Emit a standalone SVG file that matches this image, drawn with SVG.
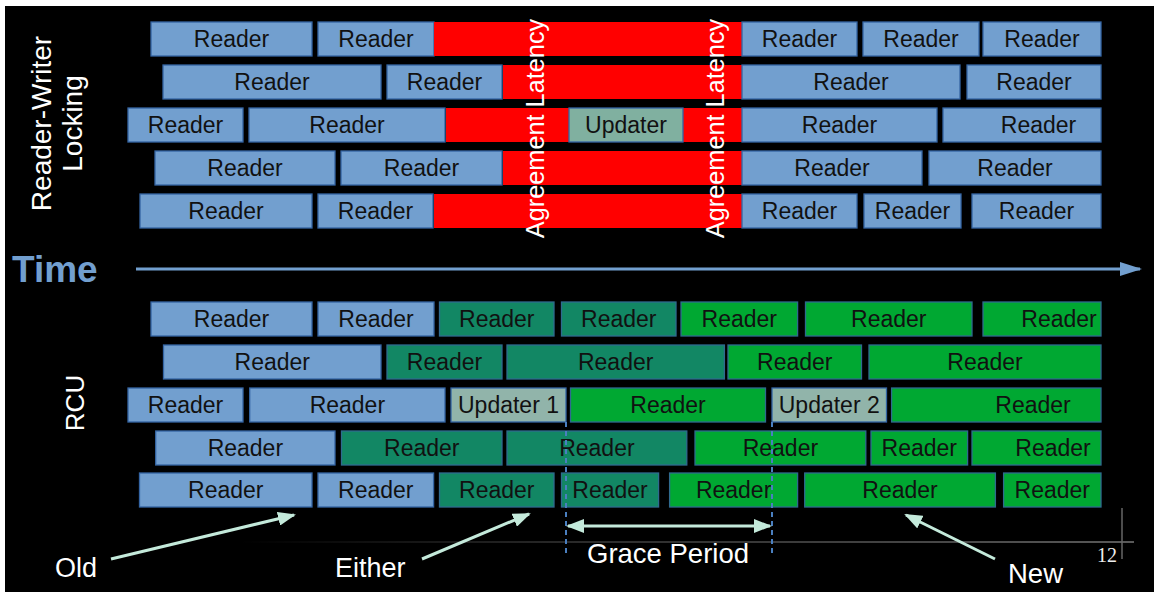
<svg xmlns="http://www.w3.org/2000/svg" width="1154" height="592" viewBox="0 0 1154 592">
  <style>
    .rd { fill: #729fcf; stroke: #3465a4; stroke-width: 1.3; }
    .dg { fill: #128764; stroke: #2f6a8f; stroke-width: 1.3; }
    .bg { fill: #00a832; stroke: #2f6a8f; stroke-width: 1.3; }
    .up { fill: #80b0a0; stroke: #3465a4; stroke-width: 1.3; }
    .up2 { fill: #91b4aa; stroke: #3465a4; stroke-width: 1.3; }
    .lk { fill: #ff0000; }
    .t { font-family: "Liberation Sans", Arial, sans-serif; font-size: 23px; fill: #111; text-anchor: middle; }
    .w { font-family: "Liberation Sans", Arial, sans-serif; fill: #fff; }
    .mint { stroke: #c4eadb; stroke-width: 3; fill: none; }
    .dash { stroke: #4a7fc0; stroke-width: 2; stroke-dasharray: 5 4; fill: none; }
  </style>
  <defs>
    <marker id="mint-head" viewBox="0 0 18 14" refX="16" refY="7" markerWidth="18" markerHeight="14" markerUnits="userSpaceOnUse" orient="auto-start-reverse">
      <path d="M0,0 L18,7 L0,14 z" fill="#c4eadb"/>
    </marker>
    <marker id="time-head" viewBox="0 0 22 14" refX="20" refY="7" markerWidth="22" markerHeight="14" markerUnits="userSpaceOnUse" orient="auto">
      <path d="M0,0 L22,7 L0,14 z" fill="#729fcf"/>
    </marker>
    <linearGradient id="footer-fade" gradientUnits="userSpaceOnUse" x1="240" y1="0" x2="1134" y2="0">
      <stop offset="0" stop-color="#555" stop-opacity="0"/>
      <stop offset="0.4" stop-color="#555" stop-opacity="0.7"/>
      <stop offset="1" stop-color="#777" stop-opacity="1"/>
    </linearGradient>
  </defs>

  <!-- page frame -->
  <rect x="0" y="0" width="1154" height="592" fill="#fff"/>
  <rect x="5" y="6" width="1149" height="586" fill="#000"/>

  <!-- footer rule and corner mark -->
  <line x1="240" y1="542" x2="1134" y2="542" stroke="url(#footer-fade)" stroke-width="1.5"/>
  <line x1="1122" y1="508" x2="1122" y2="559" stroke="#666" stroke-width="1.5"/>
  <text x="1097" y="562" font-family="'Liberation Serif', 'Times New Roman', serif" font-size="20" fill="#eee">12</text>

  <!-- section labels -->
  <text class="w" font-size="28" text-anchor="middle" transform="translate(51,123.5) rotate(-90)">Reader-Writer<tspan x="0" dy="31">Locking</tspan></text>
  <text class="w" font-size="26" text-anchor="middle" transform="translate(84,403) rotate(-90)">RCU</text>
  <text x="12" y="282" font-family="'Liberation Sans', Arial, sans-serif" font-size="37" font-weight="bold" fill="#729fcf">Time</text>

  <!-- Reader-writer locking: row 1 -->
  <g id="rw1-a"><rect class="rd" x="151" y="22" width="161" height="34"/><text class="t" x="231.5" y="47">Reader</text></g>
  <g id="rw1-b"><rect class="rd" x="318" y="22" width="116" height="34"/><text class="t" x="376" y="47">Reader</text></g>
  <g id="rw1-lock"><rect class="lk" x="434" y="22" width="308" height="34"/></g>
  <g id="rw1-c"><rect class="rd" x="742" y="22" width="115" height="34"/><text class="t" x="799.5" y="47">Reader</text></g>
  <g id="rw1-d"><rect class="rd" x="863" y="22" width="116" height="34"/><text class="t" x="921" y="47">Reader</text></g>
  <g id="rw1-e"><rect class="rd" x="983" y="22" width="118" height="34"/><text class="t" x="1042" y="47">Reader</text></g>

  <!-- row 2 -->
  <g id="rw2-a"><rect class="rd" x="163" y="65" width="218" height="34"/><text class="t" x="272" y="90">Reader</text></g>
  <g id="rw2-b"><rect class="rd" x="387" y="65" width="115" height="34"/><text class="t" x="444.5" y="90">Reader</text></g>
  <g id="rw2-lock"><rect class="lk" x="503" y="65" width="239" height="34"/></g>
  <g id="rw2-c"><rect class="rd" x="742" y="65" width="218" height="34"/><text class="t" x="851" y="90">Reader</text></g>
  <g id="rw2-d"><rect class="rd" x="967" y="65" width="134" height="34"/><text class="t" x="1034" y="90">Reader</text></g>

  <!-- row 3 -->
  <g id="rw3-a"><rect class="rd" x="128" y="108" width="115" height="34"/><text class="t" x="185.5" y="133">Reader</text></g>
  <g id="rw3-b"><rect class="rd" x="249" y="108" width="196" height="34"/><text class="t" x="347" y="133">Reader</text></g>
  <g id="rw3-lock"><rect class="lk" x="446" y="108" width="296" height="34"/></g>
  <g id="rw3-updater"><rect class="up" x="569" y="108" width="114" height="34"/><text class="t" x="626" y="133">Updater</text></g>
  <g id="rw3-c"><rect class="rd" x="742" y="108" width="195" height="34"/><text class="t" x="839.5" y="133">Reader</text></g>
  <g id="rw3-d"><rect class="rd" x="943" y="108" width="158" height="34"/><text class="t" x="1038.5" y="133">Reader</text></g>

  <!-- row 4 -->
  <g id="rw4-a"><rect class="rd" x="155" y="151" width="180" height="34"/><text class="t" x="245" y="176">Reader</text></g>
  <g id="rw4-b"><rect class="rd" x="341" y="151" width="161" height="34"/><text class="t" x="421.5" y="176">Reader</text></g>
  <g id="rw4-lock"><rect class="lk" x="503" y="151" width="239" height="34"/></g>
  <g id="rw4-c"><rect class="rd" x="742" y="151" width="180" height="34"/><text class="t" x="832" y="176">Reader</text></g>
  <g id="rw4-d"><rect class="rd" x="929" y="151" width="172" height="34"/><text class="t" x="1015" y="176">Reader</text></g>

  <!-- row 5 -->
  <g id="rw5-a"><rect class="rd" x="140" y="194" width="172" height="34"/><text class="t" x="226" y="219">Reader</text></g>
  <g id="rw5-b"><rect class="rd" x="318" y="194" width="115" height="34"/><text class="t" x="375.5" y="219">Reader</text></g>
  <g id="rw5-lock"><rect class="lk" x="434" y="194" width="308" height="34"/></g>
  <g id="rw5-c"><rect class="rd" x="742" y="194" width="115" height="34"/><text class="t" x="799.5" y="219">Reader</text></g>
  <g id="rw5-d"><rect class="rd" x="864" y="194" width="97" height="34"/><text class="t" x="912.5" y="219">Reader</text></g>
  <g id="rw5-e"><rect class="rd" x="972" y="194" width="129" height="34"/><text class="t" x="1036.5" y="219">Reader</text></g>

  <!-- agreement latency markers -->
  <text class="w" font-size="25.3" text-anchor="middle" transform="translate(544,128.5) rotate(-90)">Agreement Latency</text>
  <text class="w" font-size="25.3" text-anchor="middle" transform="translate(724,128.5) rotate(-90)">Agreement Latency</text>

  <!-- RCU: row 1 -->
  <g id="rcu1-a"><rect class="rd" x="151" y="302" width="161" height="34"/><text class="t" x="231.5" y="327">Reader</text></g>
  <g id="rcu1-b"><rect class="rd" x="318" y="302" width="116" height="34"/><text class="t" x="376" y="327">Reader</text></g>
  <g id="rcu1-c"><rect class="dg" x="439.5" y="302" width="114.5" height="34"/><text class="t" x="496.75" y="327">Reader</text></g>
  <g id="rcu1-d"><rect class="dg" x="561.5" y="302" width="114.5" height="34"/><text class="t" x="618.75" y="327">Reader</text></g>
  <g id="rcu1-e"><rect class="bg" x="681" y="302" width="116.6" height="34"/><text class="t" x="739.3" y="327">Reader</text></g>
  <g id="rcu1-f"><rect class="bg" x="805.5" y="302" width="166.5" height="34"/><text class="t" x="888.75" y="327">Reader</text></g>
  <g id="rcu1-g"><rect class="bg" x="983" y="302" width="118" height="34"/><text class="t" x="1059" y="327">Reader</text></g>

  <!-- row 2 -->
  <g id="rcu2-a"><rect class="rd" x="163.5" y="345" width="217.5" height="34"/><text class="t" x="272.25" y="370">Reader</text></g>
  <g id="rcu2-b"><rect class="dg" x="387" y="345" width="115" height="34"/><text class="t" x="444.5" y="370">Reader</text></g>
  <g id="rcu2-c"><rect class="dg" x="507" y="345" width="217.4" height="34"/><text class="t" x="615.7" y="370">Reader</text></g>
  <g id="rcu2-d"><rect class="bg" x="728" y="345" width="133.5" height="34"/><text class="t" x="794.75" y="370">Reader</text></g>
  <g id="rcu2-e"><rect class="bg" x="869" y="345" width="232" height="34"/><text class="t" x="985" y="370">Reader</text></g>

  <!-- row 3 -->
  <g id="rcu3-a"><rect class="rd" x="128" y="388" width="115" height="34"/><text class="t" x="185.5" y="413">Reader</text></g>
  <g id="rcu3-b"><rect class="rd" x="249.7" y="388" width="195.3" height="34"/><text class="t" x="347.35" y="413">Reader</text></g>
  <g id="rcu3-updater1"><rect class="up2" x="451" y="388" width="115" height="34"/><text class="t" x="508.5" y="413">Updater 1</text></g>
  <g id="rcu3-c"><rect class="bg" x="570.5" y="388" width="195" height="34"/><text class="t" x="668" y="413">Reader</text></g>
  <g id="rcu3-updater2"><rect class="up2" x="772" y="388" width="114.5" height="34"/><text class="t" x="829.25" y="413">Updater 2</text></g>
  <g id="rcu3-d"><rect class="bg" x="891.6" y="388" width="209.4" height="34"/><text class="t" x="1033" y="413">Reader</text></g>

  <!-- row 4 -->
  <g id="rcu4-a"><rect class="rd" x="155.7" y="431" width="179.3" height="34"/><text class="t" x="245.35" y="456">Reader</text></g>
  <g id="rcu4-b"><rect class="dg" x="341.5" y="431" width="160.5" height="34"/><text class="t" x="421.75" y="456">Reader</text></g>
  <g id="rcu4-c"><rect class="dg" x="507" y="431" width="179.8" height="34"/><text class="t" x="596.9" y="456">Reader</text></g>
  <g id="rcu4-d"><rect class="bg" x="695" y="431" width="170.8" height="34"/><text class="t" x="780.4" y="456">Reader</text></g>
  <g id="rcu4-e"><rect class="bg" x="871" y="431" width="96.6" height="34"/><text class="t" x="919.3" y="456">Reader</text></g>
  <g id="rcu4-f"><rect class="bg" x="972" y="431" width="129" height="34"/><text class="t" x="1053" y="456">Reader</text></g>

  <!-- row 5 -->
  <g id="rcu5-a"><rect class="rd" x="139.5" y="473" width="172.5" height="34"/><text class="t" x="225.75" y="498">Reader</text></g>
  <g id="rcu5-b"><rect class="rd" x="318" y="473" width="115.6" height="34"/><text class="t" x="375.8" y="498">Reader</text></g>
  <g id="rcu5-c"><rect class="dg" x="439.5" y="473" width="114.5" height="34"/><text class="t" x="496.75" y="498">Reader</text></g>
  <g id="rcu5-d"><rect class="dg" x="561.5" y="473" width="97.1" height="34"/><text class="t" x="610" y="498">Reader</text></g>
  <g id="rcu5-e"><rect class="bg" x="669.6" y="473" width="128" height="34"/><text class="t" x="733.6" y="498">Reader</text></g>
  <g id="rcu5-f"><rect class="bg" x="804.7" y="473" width="190.7" height="34"/><text class="t" x="900" y="498">Reader</text></g>
  <g id="rcu5-g"><rect class="bg" x="1003.6" y="473" width="97.4" height="34"/><text class="t" x="1052.3" y="498">Reader</text></g>

  <!-- annotations -->
  <g id="label-old"><text class="w" x="55" y="577" font-size="27">Old</text></g>
  <g id="label-either"><text class="w" x="335" y="577" font-size="27">Either</text></g>
  <g id="label-grace"><text class="w" x="587" y="563" font-size="27.5">Grace Period</text></g>
  <g id="label-new"><text class="w" x="1008" y="583" font-size="27.5">New</text></g>

  <!-- connectors -->
  <g id="connectors">
    <line x1="136" y1="269" x2="1140" y2="269" stroke="#729fcf" stroke-width="3" marker-end="url(#time-head)"/>
    <line class="dash" x1="566" y1="422" x2="566" y2="557"/>
    <line class="dash" x1="772" y1="422" x2="772" y2="557"/>
    <line class="mint" x1="568" y1="526" x2="770" y2="526" marker-start="url(#mint-head)" marker-end="url(#mint-head)"/>
    <line class="mint" x1="111" y1="559" x2="294" y2="515" marker-end="url(#mint-head)"/>
    <line class="mint" x1="422" y1="559" x2="529" y2="514" marker-end="url(#mint-head)"/>
    <line class="mint" x1="995" y1="559" x2="906" y2="515" marker-end="url(#mint-head)"/>
  </g>
</svg>
